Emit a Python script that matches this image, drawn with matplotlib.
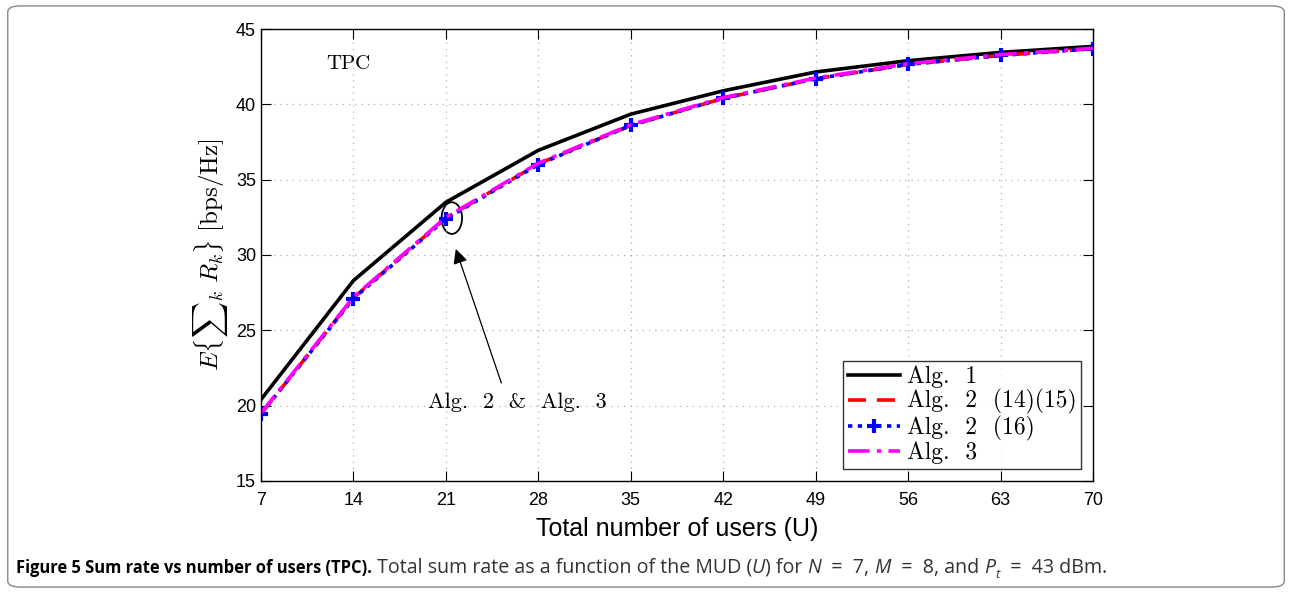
import matplotlib
matplotlib.use("Agg")
import matplotlib.pyplot as plt
from matplotlib.patches import Ellipse, FancyBboxPatch

plt.rcParams['mathtext.fontset'] = 'cm'
plt.rcParams['font.family'] = ['Liberation Sans', 'DejaVu Sans']

users = [7, 14, 21, 28, 35, 42, 49, 56, 63, 70]
alg1 = [20.4, 28.3, 33.5, 36.95, 39.35, 40.9, 42.15, 42.9, 43.45, 43.85]
alg2_1415 = [19.45, 27.15, 32.45, 36.05, 38.6, 40.4, 41.7, 42.65, 43.25, 43.7]
alg2_16 = [19.45, 27.1, 32.4, 36.0, 38.6, 40.4, 41.7, 42.65, 43.25, 43.7]
alg3 = [19.5, 27.2, 32.5, 36.1, 38.65, 40.45, 41.75, 42.7, 43.3, 43.72]

labels = ["Alg.  1", "Alg.  2  (14)(15)", "Alg.  2  (16)", "Alg.  3"]

fig = plt.figure(figsize=(12.92, 5.93), dpi=100)
ax = fig.add_axes([0.202, 0.189, 0.644, 0.762])

ax.plot(users, alg1, color='black', lw=2.6, label=labels[0])
ax.plot(users, alg2_1415, color='red', lw=2.6, ls=(0, (5, 3)), label=labels[1])
ax.plot(users, alg2_16, color='blue', lw=2.6, ls=(0, (1.2, 1.5)), marker='+',
        markersize=10, mew=3, label=labels[2])
ax.plot(users, alg3, color='magenta', lw=2.6, ls=(0, (6, 2, 1.2, 2)), label=labels[3])

ax.set_xlim(7, 70)
ax.set_ylim(15, 45)
ax.set_xticks(users)
ax.set_yticks([15, 20, 25, 30, 35, 40, 45])
ax.tick_params(direction='in', top=True, right=True, labelsize=13, length=7)
ax.tick_params(axis='x', pad=8)
ax.grid(True, ls=(0, (1, 4)), color='#b0b0b0', lw=0.9)
for s in ax.spines.values():
    s.set_linewidth(1.0)

ax.set_xlabel("Total number of users (U)", fontsize=18, labelpad=6)
ax.set_ylabel(r"$E\{{\sum}_k\ R_k\}\ \mathrm{[bps/Hz]}$", fontsize=18, labelpad=4)

ax.text(13.6, 42.7, "TPC", fontsize=15, family='cmr10', ha='center', va='center')
ax.add_patch(Ellipse((21.45, 32.45), 1.55, 2.1, fill=False, lw=1.3, color='black'))
ax.annotate("", xy=(21.75, 30.4), xytext=(25.2, 21.5),
            arrowprops=dict(arrowstyle='-|>', color='black', lw=0.9,
                            mutation_scale=22, shrinkA=0, shrinkB=0))
ax.text(26.4, 20.2, "Alg.  2  &  Alg.  3", fontsize=16, family='cmr10',
        ha='center', va='center')

leg = ax.legend(loc='lower right', prop={'family': 'cmr10', 'size': 17},
                frameon=True, fancybox=False,
                edgecolor='black', handlelength=2.2, borderpad=0.2,
                labelspacing=0.05, handletextpad=0.3, borderaxespad=0.5)
leg.get_frame().set_linewidth(1.0)

# caption, written piece by piece
cap_y = 0.034
pieces = [
    ("Figure 5 Sum rate vs number of users (TPC).", dict(fontweight='bold', fontsize=11.9, color='black')),
    (" Total sum rate as a function of the MUD (", dict()),
    ("U", dict(style='italic')),
    (") for ", dict()),
    ("N", dict(style='italic')),
    ("  =  7, ", dict()),
    ("M", dict(style='italic')),
    ("  =  8, and ", dict()),
    ("P", dict(style='italic')),
    ("t", dict(style='italic', fontsize=9.5, sub=True)),
    ("  =  43 dBm.", dict()),
]
fig.canvas.draw()
renderer = fig.canvas.get_renderer()
x = 0.012
for txt, kw in pieces:
    kw = dict(kw)
    sub = kw.pop('sub', False)
    opts = dict(fontsize=14.1, family='Open Sans', color='#333333', va='baseline')
    opts.update(kw)
    t = fig.text(x, cap_y - (0.008 if sub else 0), txt, **opts)
    bb = t.get_window_extent(renderer=renderer)
    x = bb.x1 / fig.bbox.width

fig.patches.append(FancyBboxPatch((0.006, 0.01), 0.988, 0.98,
                                  boxstyle='round,pad=0,rounding_size=0.01',
                                  transform=fig.transFigure, fill=False,
                                  edgecolor='#888888', lw=1.0))

fig.savefig("out.png", dpi=100)
